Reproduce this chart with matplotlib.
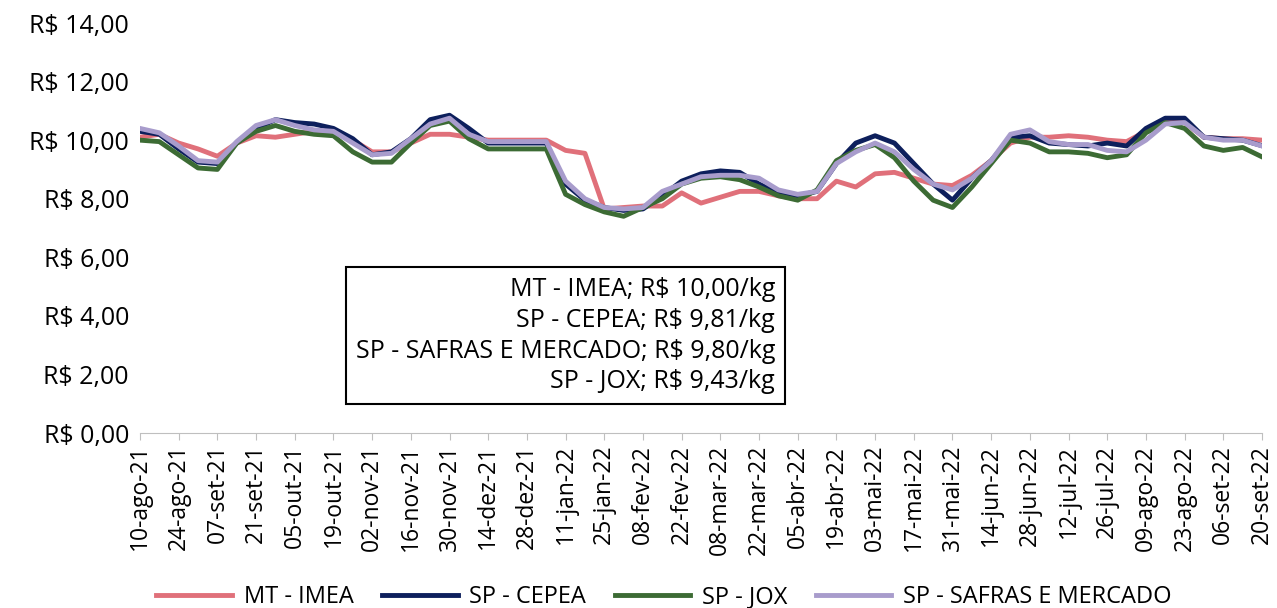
import matplotlib.pyplot as plt
import pandas as pd

dates = pd.date_range("2021-08-10", "2022-09-20", freq="7D")
meses = ["jan", "fev", "mar", "abr", "mai", "jun", "jul", "ago", "set", "out", "nov", "dez"]

mt_imea = [10.1, 10.2, 9.9, 9.7, 9.45, 9.9, 10.15, 10.1, 10.2, 10.3, 10.3, 10.0, 9.6, 9.6, 9.9,
           10.2, 10.2, 10.1, 10.0, 10.0, 10.0, 10.0, 9.65, 9.55, 7.65, 7.7, 7.75, 7.75, 8.2, 7.85,
           8.05, 8.25, 8.25, 8.1, 8.0, 8.0, 8.6, 8.4, 8.85, 8.9, 8.7, 8.5, 8.45, 8.8, 9.3, 9.9,
           10.1, 10.1, 10.15, 10.1, 10.0, 9.95, 10.3, 10.6, 10.6, 10.1, 10.05, 10.05, 10.0]
sp_cepea = [10.3, 10.2, 9.7, 9.25, 9.2, 9.9, 10.4, 10.7, 10.6, 10.55, 10.4, 10.05, 9.5, 9.6, 10.05,
            10.7, 10.85, 10.4, 9.9, 9.9, 9.9, 9.9, 8.5, 7.95, 7.7, 7.6, 7.65, 8.1, 8.6, 8.85,
            8.95, 8.9, 8.5, 8.2, 8.1, 8.25, 9.2, 9.9, 10.15, 9.9, 9.2, 8.5, 7.95, 8.7, 9.3, 10.1,
            10.15, 9.9, 9.85, 9.8, 9.9, 9.8, 10.4, 10.75, 10.75, 10.1, 10.05, 10.0, 9.81]
sp_jox = [10.0, 9.95, 9.5, 9.05, 9.0, 9.9, 10.3, 10.5, 10.3, 10.2, 10.15, 9.6, 9.25, 9.25, 9.9,
          10.5, 10.65, 10.05, 9.7, 9.7, 9.7, 9.7, 8.15, 7.8, 7.55, 7.4, 7.7, 8.0, 8.5, 8.7,
          8.75, 8.65, 8.4, 8.1, 7.95, 8.3, 9.3, 9.65, 9.85, 9.4, 8.6, 7.95, 7.7, 8.4, 9.2, 10.0,
          9.9, 9.6, 9.6, 9.55, 9.4, 9.5, 10.25, 10.6, 10.4, 9.8, 9.65, 9.75, 9.43]
sp_safras = [10.4, 10.25, 9.8, 9.3, 9.25, 9.95, 10.5, 10.7, 10.5, 10.35, 10.3, 9.9, 9.5, 9.55, 10.05,
             10.55, 10.75, 10.2, 9.95, 9.95, 9.95, 9.95, 8.6, 8.0, 7.7, 7.65, 7.7, 8.25, 8.5, 8.75,
             8.8, 8.8, 8.7, 8.3, 8.15, 8.25, 9.2, 9.6, 9.9, 9.6, 9.0, 8.5, 8.3, 8.7, 9.3, 10.2,
             10.35, 9.95, 9.85, 9.85, 9.65, 9.6, 10.0, 10.55, 10.6, 10.1, 10.0, 10.0, 9.80]

box_lines = ["MT - IMEA; R$ 10,00/kg", "SP - CEPEA; R$ 9,81/kg",
             "SP - SAFRAS E MERCADO; R$ 9,80/kg", "SP - JOX; R$ 9,43/kg"]

plt.rcParams["font.family"] = ["Open Sans", "DejaVu Sans"]
fig = plt.figure(figsize=(12.77, 6.08), dpi=100)
ax = fig.add_axes([140 / 1277, 1 - 433 / 608, 1122 / 1277, 410 / 608])

ax.plot(dates, mt_imea, color="#e0707a", lw=3.5, label="MT - IMEA")
ax.plot(dates, sp_cepea, color="#0d1f5c", lw=3.5, label="SP - CEPEA")
ax.plot(dates, sp_jox, color="#3c6b34", lw=3.5, label="SP - JOX")
ax.plot(dates, sp_safras, color="#a89ccc", lw=3.5, label="SP - SAFRAS E MERCADO")

ax.set_xlim(dates[0], dates[-1])
ax.set_ylim(0, 14)
ax.set_yticks(range(0, 15, 2))
ax.set_yticklabels([f"R$ {v},00" for v in range(0, 15, 2)], fontsize=18)
ticks = dates[::2]
ax.set_xticks(ticks)
ax.set_xticklabels([f"{d.day:02d}-{meses[d.month - 1]}-{d.year % 100}" for d in ticks],
                   rotation=90, fontsize=16.5)
for s in ["top", "right", "left"]:
    ax.spines[s].set_visible(False)
ax.spines["bottom"].set_color("#bfbfbf")
ax.tick_params(axis="y", length=0, pad=8)
ax.tick_params(axis="x", color="#bfbfbf", length=5)

ax.text(0.566, 0.237, "\n".join(box_lines), transform=ax.transAxes, ha="right", va="center",
        fontsize=18, linespacing=1.3, multialignment="right",
        bbox=dict(boxstyle="square,pad=0.4", fc="white", ec="black", lw=1.5))

ax.legend(loc="center", bbox_to_anchor=(0.467, -0.40), ncol=4, frameon=False,
          fontsize=17, handlelength=3.2, columnspacing=1.2, handletextpad=0.5,
          borderpad=0, borderaxespad=0)

fig.savefig("out.png", dpi=100)
